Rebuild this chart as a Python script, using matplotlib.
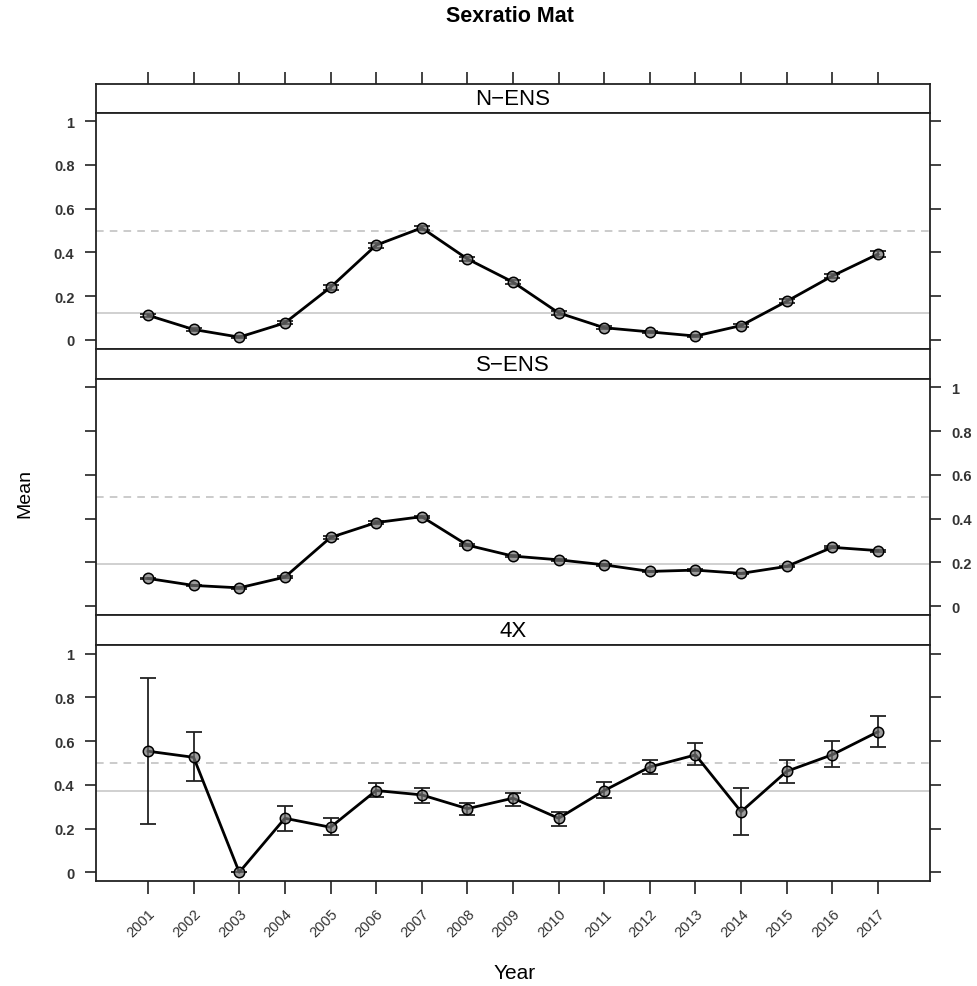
import numpy as np
import matplotlib.pyplot as plt

plt.rcParams['font.family'] = ['Liberation Sans', 'DejaVu Sans']

years = list(range(2001, 2018))

# N-ENS: mean with symmetric half-width of the error bar
n_ens_mean = [0.112, 0.047, 0.012, 0.077, 0.240, 0.433, 0.512, 0.370, 0.264,
              0.123, 0.055, 0.036, 0.017, 0.065, 0.176, 0.292, 0.392]
n_ens_err = [0.008, 0.006, 0.005, 0.007, 0.012, 0.012, 0.010, 0.011, 0.010,
             0.008, 0.006, 0.005, 0.004, 0.006, 0.009, 0.011, 0.013]

# S-ENS
s_ens_mean = [0.127, 0.095, 0.084, 0.133, 0.314, 0.382, 0.409, 0.279, 0.229,
              0.212, 0.189, 0.159, 0.165, 0.150, 0.182, 0.269, 0.254]
s_ens_err = [0.004, 0.004, 0.004, 0.004, 0.005, 0.005, 0.005, 0.004, 0.004,
             0.004, 0.004, 0.004, 0.004, 0.004, 0.004, 0.005, 0.005]

# 4X: asymmetric intervals
x4_mean = [0.554, 0.526, 0.000, 0.247, 0.206, 0.374, 0.354, 0.291, 0.339,
           0.247, 0.374, 0.482, 0.537, 0.277, 0.462, 0.538, 0.643]
x4_lower = [0.221, 0.419, 0.000, 0.188, 0.172, 0.346, 0.319, 0.264, 0.305,
            0.213, 0.339, 0.450, 0.491, 0.172, 0.409, 0.483, 0.572]
x4_upper = [0.888, 0.641, 0.000, 0.305, 0.247, 0.407, 0.386, 0.317, 0.363,
            0.275, 0.412, 0.515, 0.592, 0.386, 0.515, 0.600, 0.717]

# overall mean of each group (grey reference line)
group_mean = {'N-ENS': 0.123, 'S-ENS': 0.191, '4X': 0.372}

yticks = [0, 0.2, 0.4, 0.6, 0.8, 1]
yticklabels = ['0', '0.2', '0.4', '0.6', '0.8', '1']

W, H = 977, 987
fig = plt.figure(figsize=(W / 100, H / 100), dpi=100)

x0, x1 = 96, 930


def box(top, bottom):
    return [x0 / W, 1 - bottom / H, (x1 - x0) / W, (bottom - top) / H]


xlim = (1999.86, 2018.14)
ylim = (-0.04, 1.04)
frame_lw = 1.3
dark = '#222222'

panels = [
    ('N\u2212ENS', 84.5, 113.5, 349.5, n_ens_mean,
     [n_ens_err, n_ens_err], group_mean['N-ENS'], 'left'),
    ('S\u2212ENS', 349.5, 379.5, 616, s_ens_mean,
     [s_ens_err, s_ens_err], group_mean['S-ENS'], 'right'),
    ('4X', 616, 646, 882, x4_mean,
     [np.subtract(x4_mean, x4_lower), np.subtract(x4_upper, x4_mean)],
     group_mean['4X'], 'left'),
]

for i, (name, s_top, p_top, p_bot, mean, err, gm, lab_side) in enumerate(panels):
    # strip with the group name
    st = fig.add_axes(box(s_top, p_top))
    st.set_xlim(xlim)
    st.set_yticks([])
    st.text(0.5, 0.47, name, transform=st.transAxes, ha='center', va='center',
            fontsize=16, color='black')
    for sp in st.spines.values():
        sp.set_linewidth(frame_lw)
        sp.set_color(dark)
    if i == 0:
        st.set_xticks(years)
        st.tick_params(axis='x', top=True, bottom=False, labeltop=False,
                       labelbottom=False, direction='out', length=8.6,
                       width=1.2, color=dark)
    else:
        st.set_xticks([])

    ax = fig.add_axes(box(p_top, p_bot))
    ax.set_xlim(xlim)
    ax.set_ylim(ylim)
    ax.axhline(0.5, color='#bdbdbd', lw=1.1, ls=(0, (5, 4)), zorder=1)
    ax.axhline(gm, color='#c4c4c4', lw=1.1, zorder=1)
    ax.errorbar(years, mean, yerr=err, fmt='none', ecolor=dark,
                elinewidth=1.3, capsize=6, capthick=1.3, zorder=2)
    ax.plot(years, mean, color='black', lw=2.0, zorder=3)
    ax.plot(years, mean, 'o', ms=7.5, mfc=(0.45, 0.45, 0.45, 0.7),
            mec='black', mew=1.1, zorder=4)

    ax.set_yticks(yticks)
    ax.set_yticklabels(yticklabels)
    ax.tick_params(axis='y', left=True, right=True,
                   labelleft=(lab_side == 'left'),
                   labelright=(lab_side == 'right'),
                   direction='out', length=8, width=1.2, color=dark,
                   labelsize=10.5, labelcolor='#333333', pad=7.5)
    for lbl in ax.get_yticklabels():
        lbl.set_fontweight('bold')
    for sp in ax.spines.values():
        sp.set_linewidth(frame_lw)
        sp.set_color(dark)

    if i == 2:
        ax.set_xticks(years)
        ax.set_xticklabels([str(y) for y in years], rotation=45, ha='right',
                           va='top', rotation_mode='anchor', fontsize=10.5,
                           color='#333333')
        ax.tick_params(axis='x', bottom=True, top=False, direction='out',
                       length=9.4, width=1.2, color=dark, pad=9)
    else:
        ax.set_xticks([])

fig.text(510 / W, 1 - 17 / H, 'Sexratio Mat', ha='center', va='center',
         fontsize=15.5, fontweight='bold',
         family=['Liberation Sans Narrow', 'Liberation Sans'])
fig.text(25 / W, 1 - 494 / H, 'Mean', ha='center', va='center',
         rotation=90, fontsize=14)
fig.text(515 / W, 1 - 974 / H, 'Year', ha='center', va='center',
         fontsize=15)

fig.savefig('out.png', dpi=100)
